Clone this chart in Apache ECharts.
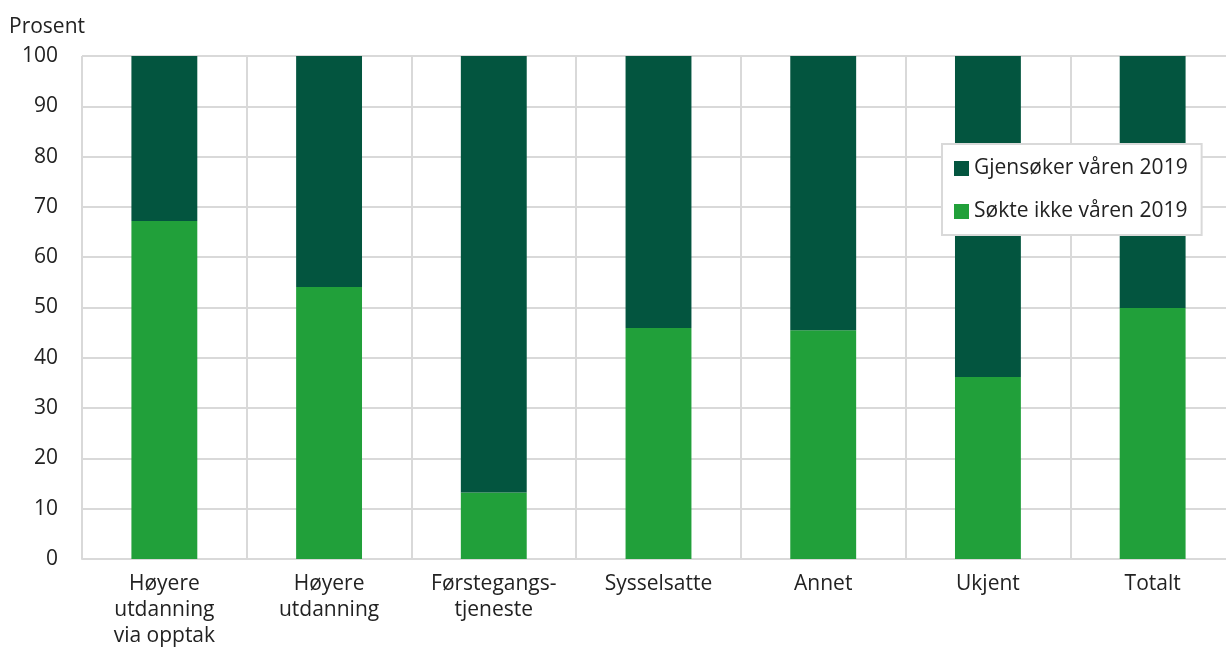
<!DOCTYPE html>
<html>
<head>
<meta charset="utf-8">
<script src="https://cdn.jsdelivr.net/npm/echarts@6/dist/echarts.min.js"></script>
<style>html,body{margin:0;padding:0;background:#fff}#c{width:1226px;height:650px}</style>
</head>
<body>
<div id="c"></div>
<script>
const categories = ['Høyere\nutdanning\nvia opptak', 'Høyere\nutdanning', 'Førstegangs-\ntjeneste', 'Sysselsatte', 'Annet', 'Ukjent', 'Totalt'];
const sokteIkke = [67.2, 54.1, 13.2, 45.9, 45.5, 36.2, 49.9];
const gjensoker = [32.8, 45.9, 86.8, 54.1, 54.5, 63.8, 50.1];
const yTicks = [0, 10, 20, 30, 40, 50, 60, 70, 80, 90, 100];

const font = '"Open Sans", "Noto Sans", sans-serif';
const fs = 21;
const chart = echarts.init(document.getElementById('c'));
chart.setOption({
  animation: false,
  textStyle: { fontFamily: font },
  title: { text: 'Prosent', left: 9, top: 17, padding: 0, textStyle: { fontFamily: font, fontSize: fs, fontWeight: 'normal', color: '#222' } },
  grid: { left: 82, top: 56, width: 1153, height: 503, containLabel: false, outerBoundsMode: 'none' },
  legend: {
    orient: 'vertical', left: 942, top: 144,
    padding: [14, 14, 13, 12], itemGap: 22, itemWidth: 15, itemHeight: 15,
    backgroundColor: '#fff', borderColor: '#d9d9d9', borderWidth: 2,
    icon: 'rect',
    textStyle: { fontFamily: font, fontSize: fs, color: '#222', padding: [0, 0, 0, 0] },
    data: ['Gjensøker våren 2019', 'Søkte ikke våren 2019']
  },
  xAxis: {
    type: 'category', data: categories,
    axisLine: { lineStyle: { color: '#d9d9d9', width: 2 } },
    axisTick: { show: false },
    splitLine: { show: true, lineStyle: { color: '#d9d9d9', width: 2 } },
    axisLabel: { fontFamily: font, fontSize: fs, color: '#222', lineHeight: 26, margin: 12, interval: 0 }
  },
  yAxis: {
    type: 'value', min: yTicks[0], max: yTicks[yTicks.length - 1], interval: 10,
    axisLine: { show: false }, axisTick: { show: false },
    splitLine: { lineStyle: { color: '#d9d9d9', width: 2 } },
    axisLabel: { fontFamily: font, fontSize: fs, color: '#222', margin: 24 }
  },
  series: [
    { name: 'Søkte ikke våren 2019', type: 'bar', stack: 's', data: sokteIkke, barWidth: '40%', itemStyle: { color: '#21a03a' } },
    { name: 'Gjensøker våren 2019', type: 'bar', stack: 's', data: gjensoker, barWidth: '40%', itemStyle: { color: '#03553f' } }
  ]
});
</script>
</body>
</html>
